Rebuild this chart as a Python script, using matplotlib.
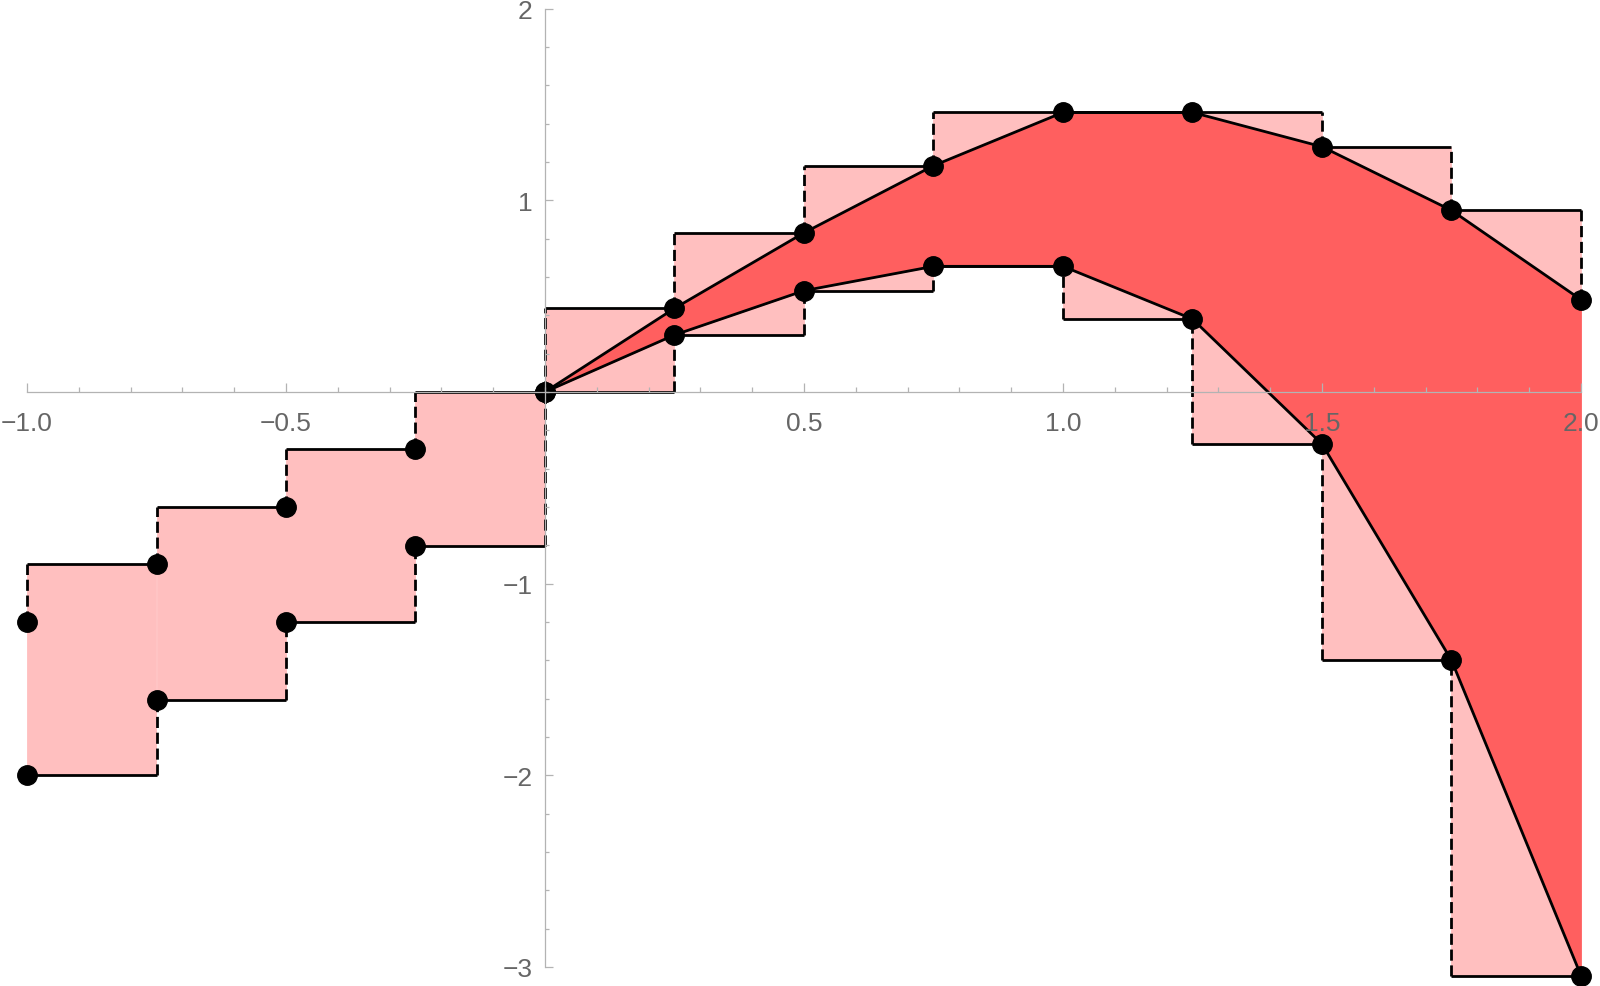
import numpy as np
import matplotlib.pyplot as plt
from matplotlib.ticker import MultipleLocator, FixedLocator, FuncFormatter

# --- data ---
x_nodes = [-1.0, -0.75, -0.5, -0.25, 0.0, 0.25, 0.5, 0.75, 1.0, 1.25, 1.5, 1.75, 2.0]
upper = [-1.2, -0.9, -0.6, -0.3, 0.0, 0.436, 0.83, 1.18, 1.458, 1.458, 1.279, 0.947, 0.481]
lower = [-2.0, -1.607, -1.2, -0.802, 0.0, 0.297, 0.528, 0.655, 0.655, 0.38, -0.272, -1.40, -3.045]
curve_start = 0.0   # curves and dark band only drawn from here on

x_major = [-1.0, -0.5, 0.5, 1.0, 1.5, 2.0]
y_major = [-3, -2, -1, 1, 2]

pink = '#FFBFBF'
red = '#FF5F5F'
lw = 2.0

x = np.array(x_nodes)
up = np.array(upper)
lo = np.array(lower)

# box for every interval: top = max of upper, bottom = min of lower
tops = np.maximum(up[:-1], up[1:])
bots = np.minimum(lo[:-1], lo[1:])
widths = np.diff(x)

fig = plt.figure(figsize=(16, 9.87), dpi=100)
ax = fig.add_axes([27/1600, (987-968)/987, (1581-27)/1600, (968-9.5)/987])

ax.bar(x[:-1], tops - bots, bottom=bots, width=widths, align='edge',
       color=pink, edgecolor=pink, linewidth=0.6, zorder=1, clip_on=False)

m = x >= curve_start
ax.fill_between(x[m], lo[m], up[m], color=red, edgecolor=red, linewidth=0.5,
                zorder=1.5, clip_on=False)

# box outlines: horizontal solid
ax.hlines(tops, x[:-1], x[1:], colors='black', linewidth=lw, zorder=2, clip_on=False)
ax.hlines(bots, x[:-1], x[1:], colors='black', linewidth=lw, zorder=2, clip_on=False)

# vertical dashed joins at every node
for i in range(len(x)):
    t = [up[i]]
    b = [lo[i]]
    if i > 0:
        t.append(tops[i-1]); b.append(bots[i-1])
    if i < len(x) - 1:
        t.append(tops[i]); b.append(bots[i])
    for vals in (t, b):
        if max(vals) - min(vals) > 1e-9:
            ax.plot([x[i], x[i]], [min(vals), max(vals)], color='black',
                    linewidth=lw, dashes=(4.0, 1.7), zorder=2, clip_on=False)

ax.plot(x[m], up[m], color='black', linewidth=lw, zorder=3, clip_on=False)
ax.plot(x[m], lo[m], color='black', linewidth=lw, zorder=3, clip_on=False)

ax.plot(x, up, 'o', color='black', markersize=14, clip_on=False, zorder=4)
ax.plot(x, lo, 'o', color='black', markersize=14, clip_on=False, zorder=4)

# Mathematica style axes through origin
ax.set_xlim(-1, 2)
ax.set_ylim(-3, 2)
for s in ['top', 'right']:
    ax.spines[s].set_visible(False)
ax.spines['left'].set_position(('data', 0))
ax.spines['bottom'].set_position(('data', 0))
for s in ['left', 'bottom']:
    ax.spines[s].set_color('#b3b3b3')
    ax.spines[s].set_linewidth(0.9)
    ax.spines[s].set_zorder(5)

ax.xaxis.set_major_locator(FixedLocator(x_major))
ax.xaxis.set_minor_locator(MultipleLocator(0.1))
ax.yaxis.set_major_locator(FixedLocator(y_major))
ax.yaxis.set_minor_locator(MultipleLocator(0.2))
ax.xaxis.set_major_formatter(FuncFormatter(lambda v, p: f'{v:.1f}'.replace('-', '\u2212')))
ax.yaxis.set_major_formatter(FuncFormatter(lambda v, p: f'{v:.0f}'.replace('-', '\u2212')))

ax.tick_params(axis='both', which='both', direction='in', color='#b3b3b3',
               width=0.9, labelcolor='#666666', labelsize=19)
ax.tick_params(axis='x', which='major', length=6.2, pad=14)
ax.tick_params(axis='x', which='minor', length=3.4)
ax.tick_params(axis='y', which='major', length=5.5, pad=9)
ax.tick_params(axis='y', which='minor', length=3.1)
for lab in ax.get_xticklabels() + ax.get_yticklabels():
    lab.set_family(['Liberation Sans', 'DejaVu Sans'])
ax.xaxis.set_zorder(5)
ax.yaxis.set_zorder(5)
ax.patch.set_visible(False)

fig.savefig('out.png', dpi=100)
